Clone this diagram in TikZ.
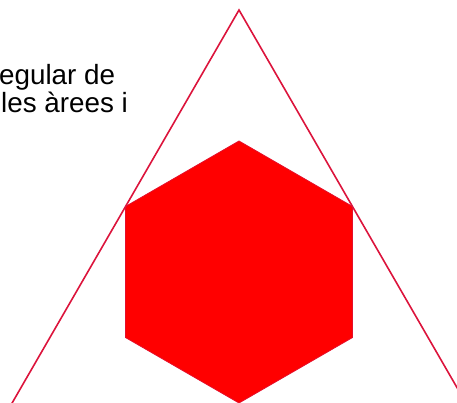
\documentclass[tikz,border=0pt]{standalone}
\usepackage{fontspec}
\setmainfont{Liberation Sans}
\definecolor{tricol}{RGB}{220,20,60}
\definecolor{hexfill}{RGB}{255,0,0}
\begin{document}
\begin{tikzpicture}[x=1pt,y=-1pt,
  txt/.style={anchor=base west,inner sep=0pt,font=\fontsize{27.8}{28}\selectfont},
  triline/.style={draw=tricol,line width=1.6pt},
  hexshape/.style={fill=hexfill,draw=tricol!70!hexfill,line width=0.8pt,line join=miter}]
\useasboundingbox (0,0) rectangle (457,403);
\clip (0,0) rectangle (457,403);
\node[txt] (l1) at (-1,85) {egular de};
\node[txt] (l2) at (1,113) {les àrees i};
% hexagon
\coordinate (c) at (239,272);
\fill[hexshape] (239,141) -- (352.5,206.5) -- (352.5,337.5) -- (239,403) -- (125.5,337.5) -- (125.5,206.5) -- cycle;
% triangle
\coordinate (apex) at (239,10);
\coordinate (bl) at ({239-0.57735*420},430);
\coordinate (br) at ({239+0.57735*420},430);
\draw[triline] (bl) -- (apex) -- (br);
\end{tikzpicture}
\end{document}
